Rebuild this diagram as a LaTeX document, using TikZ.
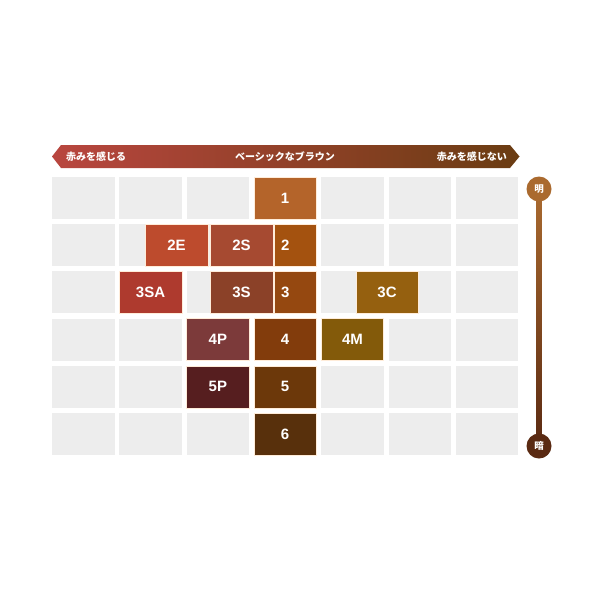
\documentclass[tikz,border=0pt]{standalone}
\usepackage{fontspec}
\setmainfont{Liberation Sans}
\newfontfamily\jp{Noto Sans CJK JP}
\usetikzlibrary{calc}
\definecolor{greycell}{HTML}{EDEDED}
\definecolor{cA}{HTML}{B4642A}
\definecolor{cB}{HTML}{A4520F}
\definecolor{cC}{HTML}{954810}
\definecolor{cD}{HTML}{823C0C}
\definecolor{cE}{HTML}{6C380A}
\definecolor{cF}{HTML}{58300C}
\definecolor{c2E}{HTML}{BD4B2D}
\definecolor{c2S}{HTML}{A64A31}
\definecolor{c3SA}{HTML}{AE3A2E}
\definecolor{c3S}{HTML}{8B4128}
\definecolor{c4P}{HTML}{7C3A3A}
\definecolor{c5P}{HTML}{561E1F}
\definecolor{c3C}{HTML}{95600F}
\definecolor{c4M}{HTML}{835A0A}
\definecolor{barL}{HTML}{B9463F}
\definecolor{barM}{HTML}{8F3E2C}
\definecolor{barR}{HTML}{6A3C12}
\definecolor{vTop}{HTML}{AA6A2F}
\definecolor{vBot}{HTML}{5A2A12}
\begin{document}
\begin{tikzpicture}[x=1pt,y=-1pt,
  gcell/.style={fill=greycell,minimum width=62.5pt,minimum height=42pt,inner sep=0pt,outer sep=0pt},
  shadebox/.style={fill=#1,draw=white!85!orange,line width=0.5pt,minimum height=42pt,inner sep=0pt,outer sep=0pt,
     text=white,font=\bfseries\fontsize{15}{15}\selectfont},
  lab/.style={text=white,font=\bfseries\fontsize{15}{15}\selectfont},
  bartext/.style={text=white,font=\jp\bfseries\fontsize{10}{10}\selectfont,inner sep=0pt},
  dot/.style={circle,inner sep=0pt,minimum size=25pt,text=white,font=\jp\bfseries\fontsize{9.5}{9.5}\selectfont}]
\useasboundingbox (0,0) rectangle (600,600);
\fill[white] (0,0) rectangle (600,600);
% grey grid
\foreach \i in {0,...,6} {
  \foreach \j in {0,...,5} {
    \node[gcell] (g-\i-\j) at ({83.25+67.3*\i},{198+47.2*\j}) {};
  }
}
% top arrow bar
\shade[left color=barL,middle color=barM,right color=barR]
  (52,156.5) -- (61,145) -- (510,145) -- (519.5,156.5) -- (510,168) -- (61,168) -- cycle;
\node[bartext,anchor=west] (tl) at (66,156.5) {赤みを感じる};
\node[bartext] (tm) at (285,156.5) {ベーシックなブラウン};
\node[bartext,anchor=east] (tr) at (507,156.5) {赤みを感じない};
% coloured boxes
\node[shadebox=cA,minimum width=62.5pt] (b1) at (285.15,198) {1};
\node[shadebox=c2E,minimum width=63pt] (b2E) at (176.5,245.2) {2E};
\node[shadebox=c2S,minimum width=63pt] (b2S) at (241.5,245.2) {2S};
\node[shadebox=cB,minimum width=42.4pt,label={[lab,xshift=-10pt]center:2}] (b2) at (295.2,245.2) {};
\node[shadebox=c3SA,minimum width=62.5pt] (b3SA) at (150.55,292.4) {3SA};
\node[shadebox=c3S,minimum width=63pt] (b3S) at (241.5,292.4) {3S};
\node[shadebox=cC,minimum width=42.4pt,label={[lab,xshift=-10pt]center:3}] (b3) at (295.2,292.4) {};
\node[shadebox=c3C,minimum width=62.5pt] (b3C) at (387,292.4) {3C};
\node[shadebox=c4P,minimum width=62.5pt] (b4P) at (217.85,339.6) {4P};
\node[shadebox=cD,minimum width=62.5pt] (b4) at (285.15,339.6) {4};
\node[shadebox=c4M,minimum width=62.5pt] (b4M) at (352.45,339.6) {4M};
\node[shadebox=c5P,minimum width=62.5pt] (b5P) at (217.85,386.8) {5P};
\node[shadebox=cE,minimum width=62.5pt] (b5) at (285.15,386.8) {5};
\node[shadebox=cF,minimum width=62.5pt] (b6) at (285.15,434) {6};
% vertical scale
\coordinate (vt) at (539,189);
\coordinate (vb) at (539,446);
\shade[top color=vTop,bottom color=vBot] ($(vt)+(-2.8,0)$) rectangle ($(vb)+(2.8,0)$);
\node[dot,fill=vTop] (light) at (vt) {明};
\node[dot,fill=vBot] (dark) at (vb) {暗};
\end{tikzpicture}
\end{document}
